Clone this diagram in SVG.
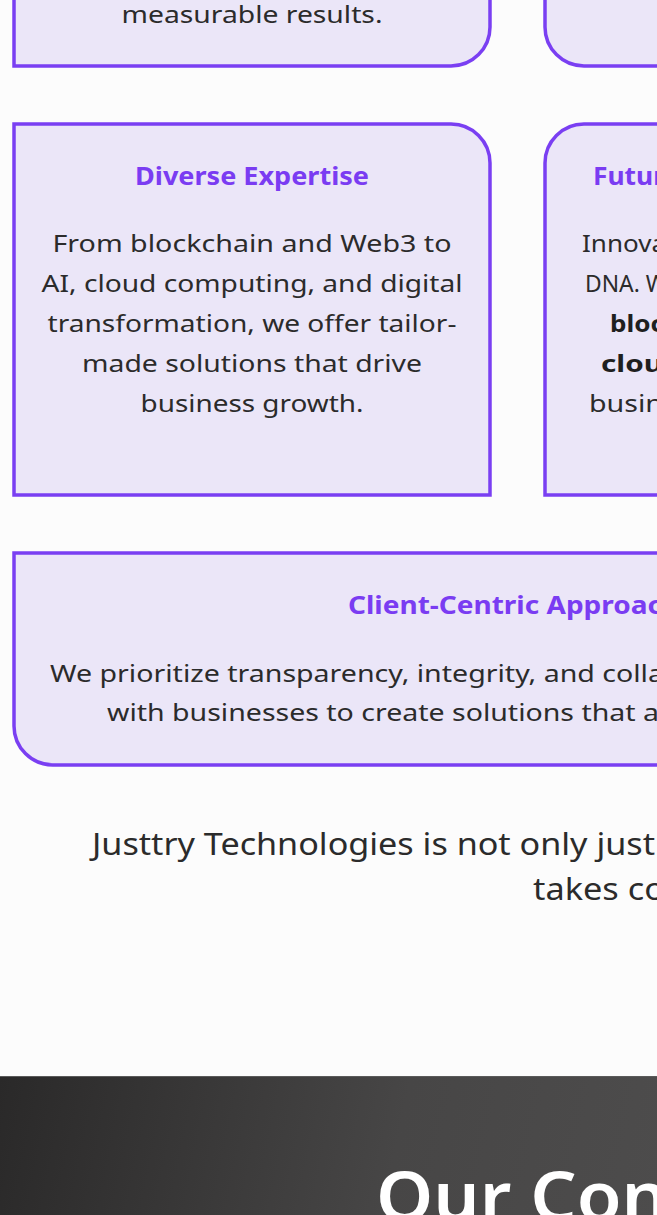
<svg xmlns="http://www.w3.org/2000/svg" width="657" height="1215" viewBox="0 0 657 1215">
<style>
.card{fill:#ebe6f8;stroke:#7a3ff2;stroke-width:3.5}
.ttl{font-family:"Noto Sans","Open Sans",sans-serif;font-weight:700;font-size:25px;fill:#7a3cf2}
.body{font-family:"Noto Sans","Open Sans",sans-serif;font-size:24px;fill:#2b2b2b}
.bold{font-weight:700;fill:#1f1f1f}
.mid{text-anchor:middle}
.big{font-family:"Noto Sans","Open Sans",sans-serif;font-size:31px;fill:#2b2b2b}
.hero{font-family:"Noto Sans","Open Sans",sans-serif;font-weight:600;font-size:68px;fill:#ffffff}
</style>
<defs>
<linearGradient id="dark" x1="0" y1="1076" x2="657" y2="1215" gradientUnits="userSpaceOnUse">
<stop offset="0" stop-color="#2a2929"/>
<stop offset="0.6" stop-color="#474646"/>
<stop offset="1" stop-color="#4d4c4c"/>
</linearGradient>
</defs>
<rect x="0" y="0" width="657" height="1215" fill="#fcfcfc"/>

<g id="card-results">
<path class="card" d="M14,-10 L490,-10 L490,27 A39,39 0 0 1 451,66 L14,66 Z"/>
<text class="body mid" x="252" y="23" textLength="261" lengthAdjust="spacingAndGlyphs">measurable results.</text>
</g>

<g id="card-right-top">
<path class="card" d="M680,-10 L545,-10 L545,27 A39,39 0 0 0 584,66 L680,66 Z"/>
</g>

<g id="card-diverse">
<path class="card" d="M14,495 L14,124 L451,124 A39,39 0 0 1 490,163 L490,495 Z"/>
<text class="ttl mid" x="252" y="185" textLength="234" lengthAdjust="spacingAndGlyphs">Diverse Expertise</text>
<text class="body mid" x="252" y="252" textLength="399" lengthAdjust="spacingAndGlyphs">From blockchain and Web3 to</text>
<text class="body mid" x="252" y="292" textLength="421" lengthAdjust="spacingAndGlyphs">AI, cloud computing, and digital</text>
<text class="body mid" x="252" y="332" textLength="409" lengthAdjust="spacingAndGlyphs">transformation, we offer tailor-</text>
<text class="body mid" x="252" y="372" textLength="340" lengthAdjust="spacingAndGlyphs">made solutions that drive</text>
<text class="body mid" x="252" y="412" textLength="223" lengthAdjust="spacingAndGlyphs">business growth.</text>
</g>

<g id="card-future">
<path class="card" d="M680,495 L545,495 L545,163 A39,39 0 0 1 584,124 L680,124 Z"/>
<text class="ttl" x="593" y="185" textLength="72" lengthAdjust="spacingAndGlyphs">Futur</text>
<text class="body" x="582" y="252" textLength="84" lengthAdjust="spacingAndGlyphs">Innova</text>
<text class="body" x="585" y="292" textLength="82" lengthAdjust="spacingAndGlyphs">DNA. W</text>
<text class="body bold" x="610" y="332" textLength="54" lengthAdjust="spacingAndGlyphs">bloc</text>
<text class="body bold" x="601" y="372" textLength="62" lengthAdjust="spacingAndGlyphs">clou</text>
<text class="body" x="589" y="412" textLength="74" lengthAdjust="spacingAndGlyphs">busin</text>
</g>

<g id="card-client">
<path class="card" d="M680,553 L14,553 L14,726 A39,39 0 0 0 53,765 L680,765 Z"/>
<text class="ttl" x="348" y="614" textLength="314" lengthAdjust="spacingAndGlyphs">Client-Centric Approac</text>
<text class="body" x="50" y="682" textLength="614" lengthAdjust="spacingAndGlyphs">We prioritize transparency, integrity, and colla</text>
<text class="body" x="107" y="721" textLength="552" lengthAdjust="spacingAndGlyphs">with businesses to create solutions that a</text>
</g>

<g id="intro-text">
<text class="big" x="92" y="855" textLength="563" lengthAdjust="spacingAndGlyphs">Justtry Technologies is not only just</text>
<text class="big" x="533" y="900" textLength="132" lengthAdjust="spacingAndGlyphs">takes co</text>
</g>

<g id="dark-section">
<rect x="0" y="1076" width="657" height="139" fill="url(#dark)"/>
<line x1="0" y1="1076.5" x2="657" y2="1076.5" stroke="#5a5a5a" stroke-width="1"/>
<text class="hero" x="376" y="1221" textLength="292" lengthAdjust="spacingAndGlyphs">Our Con</text>
</g>

<g id="connectors"></g>
</svg>
